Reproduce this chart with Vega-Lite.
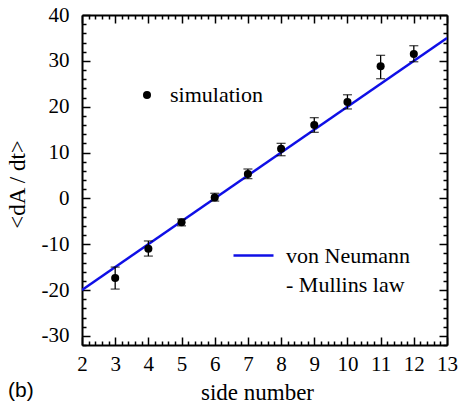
{
  "$schema": "https://vega.github.io/schema/vega-lite/v6.json",
  "width": 365,
  "height": 330,
  "autosize": "none",
  "padding": {"left": 82, "top": 15, "right": 12, "bottom": 59},
  "background": "white",
  "config": {
    "view": {"stroke": null},
    "font": "Liberation Serif",
    "axis": {
      "grid": false,
      "domainColor": "black",
      "domainWidth": 2,
      "tickColor": "black",
      "tickWidth": 1.5,
      "labelColor": "black",
      "titleColor": "black",
      "labelFont": "Liberation Serif",
      "titleFont": "Liberation Serif",
      "labelFontSize": 21,
      "titleFontSize": 23,
      "titleFontWeight": "normal",
      "labelOverlap": false,
      "labelFlush": false,
      "labelBound": false
    },
    "legend": {"labelFont": "Liberation Serif"},
    "style": {"guide-label": {"font": "Liberation Serif", "fill": "black", "lineHeight": 29}}
  },
  "datasets": {
    "sim": [
      {"n": 3, "mean": -17.4, "lo": -19.8, "hi": -15.0},
      {"n": 4, "mean": -11.0, "lo": -12.6, "hi": -9.3},
      {"n": 5, "mean": -5.2, "lo": -6.0, "hi": -4.5},
      {"n": 6, "mean": 0.2, "lo": -0.6, "hi": 1.1},
      {"n": 7, "mean": 5.3, "lo": 4.3, "hi": 6.4},
      {"n": 8, "mean": 10.8, "lo": 9.3, "hi": 12.0},
      {"n": 9, "mean": 16.0, "lo": 14.4, "hi": 17.6},
      {"n": 10, "mean": 21.0, "lo": 19.5, "hi": 22.6},
      {"n": 11, "mean": 28.8, "lo": 26.1, "hi": 31.2},
      {"n": 12, "mean": 31.5, "lo": 29.8, "hi": 33.3}
    ],
    "law": [
      {"n": 2, "rate": -20},
      {"n": 13, "rate": 35}
    ]
  },
  "title": {
    "text": "(b)",
    "orient": "bottom",
    "anchor": "start",
    "frame": "group",
    "dx": -74,
    "dy": -28,
    "font": "Liberation Sans",
    "fontSize": 21,
    "fontWeight": "normal",
    "color": "black"
  },
  "layer": [
    {
      "data": {"name": "law"},
      "mark": {"type": "line", "strokeWidth": 2.5, "clip": true},
      "encoding": {
        "x": {
          "field": "n", "type": "quantitative",
          "scale": {"domain": [2, 13], "nice": false, "zero": false},
          "axis": {
            "orient": "top", "title": null, "labels": false,
            "values": [2,2.2,2.4,2.6,2.8,3,3.2,3.4,3.6,3.8,4,4.2,4.4,4.6,4.8,5,5.2,5.4,5.6,5.8,6,6.2,6.4,6.6,6.8,7,7.2,7.4,7.6,7.8,8,8.2,8.4,8.6,8.8,9,9.2,9.4,9.6,9.8,10,10.2,10.4,10.6,10.8,11,11.2,11.4,11.6,11.8,12,12.2,12.4,12.6,12.8,13],
            "tickSize": {"condition": {"test": "datum.value % 1 == 0", "value": -8}, "value": -4}
          }
        },
        "y": {
          "field": "rate", "type": "quantitative",
          "scale": {"domain": [-32, 40], "nice": false, "zero": false},
          "axis": {
            "orient": "right", "title": null, "labels": false,
            "values": [-32,-30,-28,-26,-24,-22,-20,-18,-16,-14,-12,-10,-8,-6,-4,-2,0,2,4,6,8,10,12,14,16,18,20,22,24,26,28,30,32,34,36,38,40],
            "tickSize": {"condition": {"test": "datum.value % 10 == 0", "value": -8}, "value": -4}
          }
        },
        "stroke": {
          "datum": "von Neumann - Mullins law",
          "type": "nominal",
          "scale": {"range": ["#0f0fe6"]},
          "legend": {
            "orient": "none",
            "legendX": 150,
            "legendY": 219,
            "title": null,
            "symbolType": "stroke",
            "symbolSize": 1600,
            "symbolStrokeWidth": 2.5,
            "labelFont": "Liberation Serif",
            "labelFontSize": 22,
            "labelColor": "black",
            "labelLimit": 0,
            "labelOffset": 11,
            "labelExpr": "['von Neumann', '- Mullins law']"
          }
        }
      }
    },
    {
      "data": {"name": "sim"},
      "mark": {"type": "errorbar", "ticks": true, "size": 9, "thickness": 1.3, "color": "black"},
      "encoding": {
        "x": {"field": "n", "type": "quantitative", "axis": null},
        "y": {"field": "lo", "type": "quantitative", "axis": null},
        "y2": {"field": "hi"}
      }
    },
    {
      "data": {"name": "sim"},
      "mark": {"type": "point", "filled": true, "color": "black", "opacity": 1, "size": 65},
      "encoding": {
        "x": {
          "field": "n", "type": "quantitative",
          "axis": {
            "orient": "bottom", "title": "side number",
            "values": [2,2.2,2.4,2.6,2.8,3,3.2,3.4,3.6,3.8,4,4.2,4.4,4.6,4.8,5,5.2,5.4,5.6,5.8,6,6.2,6.4,6.6,6.8,7,7.2,7.4,7.6,7.8,8,8.2,8.4,8.6,8.8,9,9.2,9.4,9.6,9.8,10,10.2,10.4,10.6,10.8,11,11.2,11.4,11.6,11.8,12,12.2,12.4,12.6,12.8,13],
            "tickSize": {"condition": {"test": "datum.value % 1 == 0", "value": -8}, "value": -4},
            "labelExpr": "datum.value % 1 == 0 ? '' + datum.value : ''",
            "labelPadding": 16,
            "titlePadding": 3,
            "titleX": 175
          }
        },
        "y": {
          "field": "mean", "type": "quantitative",
          "axis": {
            "orient": "left", "title": "<dA / dt>",
            "values": [-32,-30,-28,-26,-24,-22,-20,-18,-16,-14,-12,-10,-8,-6,-4,-2,0,2,4,6,8,10,12,14,16,18,20,22,24,26,28,30,32,34,36,38,40],
            "tickSize": {"condition": {"test": "datum.value % 10 == 0", "value": -8}, "value": -4},
            "labelExpr": "datum.value % 10 == 0 ? '' + datum.value : ''",
            "labelPadding": 21,
            "titlePadding": 12,
            "titleY": 169
          }
        },
        "shape": {
          "datum": "simulation",
          "type": "nominal",
          "scale": {"range": ["circle"]},
          "legend": {
            "orient": "none",
            "legendX": 54,
            "legendY": 69,
            "title": null,
            "symbolSize": 65,
            "symbolFillColor": "black",
            "symbolStrokeColor": "black",
            "labelFont": "Liberation Serif",
            "labelFontSize": 22,
            "labelColor": "black",
            "labelOffset": 12
          }
        }
      }
    }
  ],
  "resolve": {
    "axis": {"x": "independent", "y": "independent"},
    "legend": {"shape": "independent", "stroke": "independent"}
  }
}
